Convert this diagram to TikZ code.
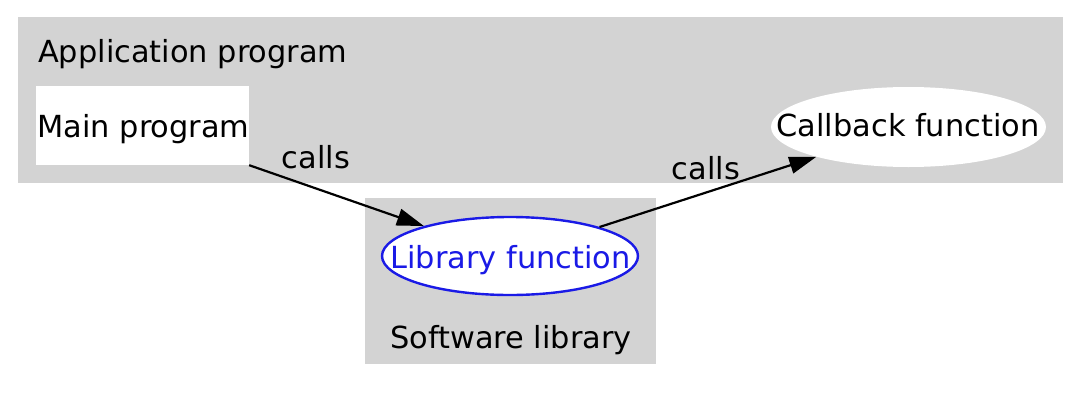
\documentclass[tikz,border=0pt]{standalone}
\usepackage{fontspec}
\setmainfont{DejaVu Sans}
\usetikzlibrary{shapes.geometric,arrows.meta}
\definecolor{clustergray}{HTML}{D3D3D3}
\definecolor{libblue}{HTML}{1A1AE6}
\begin{document}
\begin{tikzpicture}[x=1pt,y=-1pt,
  every node/.style={font=\fontsize{30.4}{36}\selectfont, inner sep=0pt, text height=22pt, text depth=0pt},
  cluster/.style={fill=clustergray, draw=none},
  lbl/.style={},
  arr/.style={line width=2.2pt, -{Triangle[length=27pt,width=17pt]}}]
\useasboundingbox (0,0) rectangle (1080,402);
% clusters
\path[cluster] (18,17) rectangle (1063,183);
\path[cluster] (365,198) rectangle (656,364);
\node[lbl, anchor=west] (apptitle) at (38,51.5) {Application program};
\node[lbl] (libtitle) at (511,337.5) {Software library};
% nodes
\node[fill=white, minimum width=213pt, minimum height=79pt] (mp) at (142.5,125.5) {};
\node[lbl] (mptxt) at (143.5,126) {Main program};
\node[ellipse, fill=white, minimum width=275pt, minimum height=80pt] (cb) at (908.5,127) {};
\node[lbl] (cbtxt) at (908,125.5) {Callback function};
\node[ellipse, fill=white, draw=libblue, line width=2.4pt, minimum width=256pt, minimum height=78pt] (lib) at (510,256) {};
\node[lbl, text=libblue] (libtxt) at (510.5,257) {Library function};
% edges
\draw[arr] (mp.south east) -- (lib);
\draw[arr] (lib) -- (cb);
\node[lbl] (calls1) at (316,157) {calls};
\node[lbl] (calls2) at (706,168) {calls};
\end{tikzpicture}
\end{document}
